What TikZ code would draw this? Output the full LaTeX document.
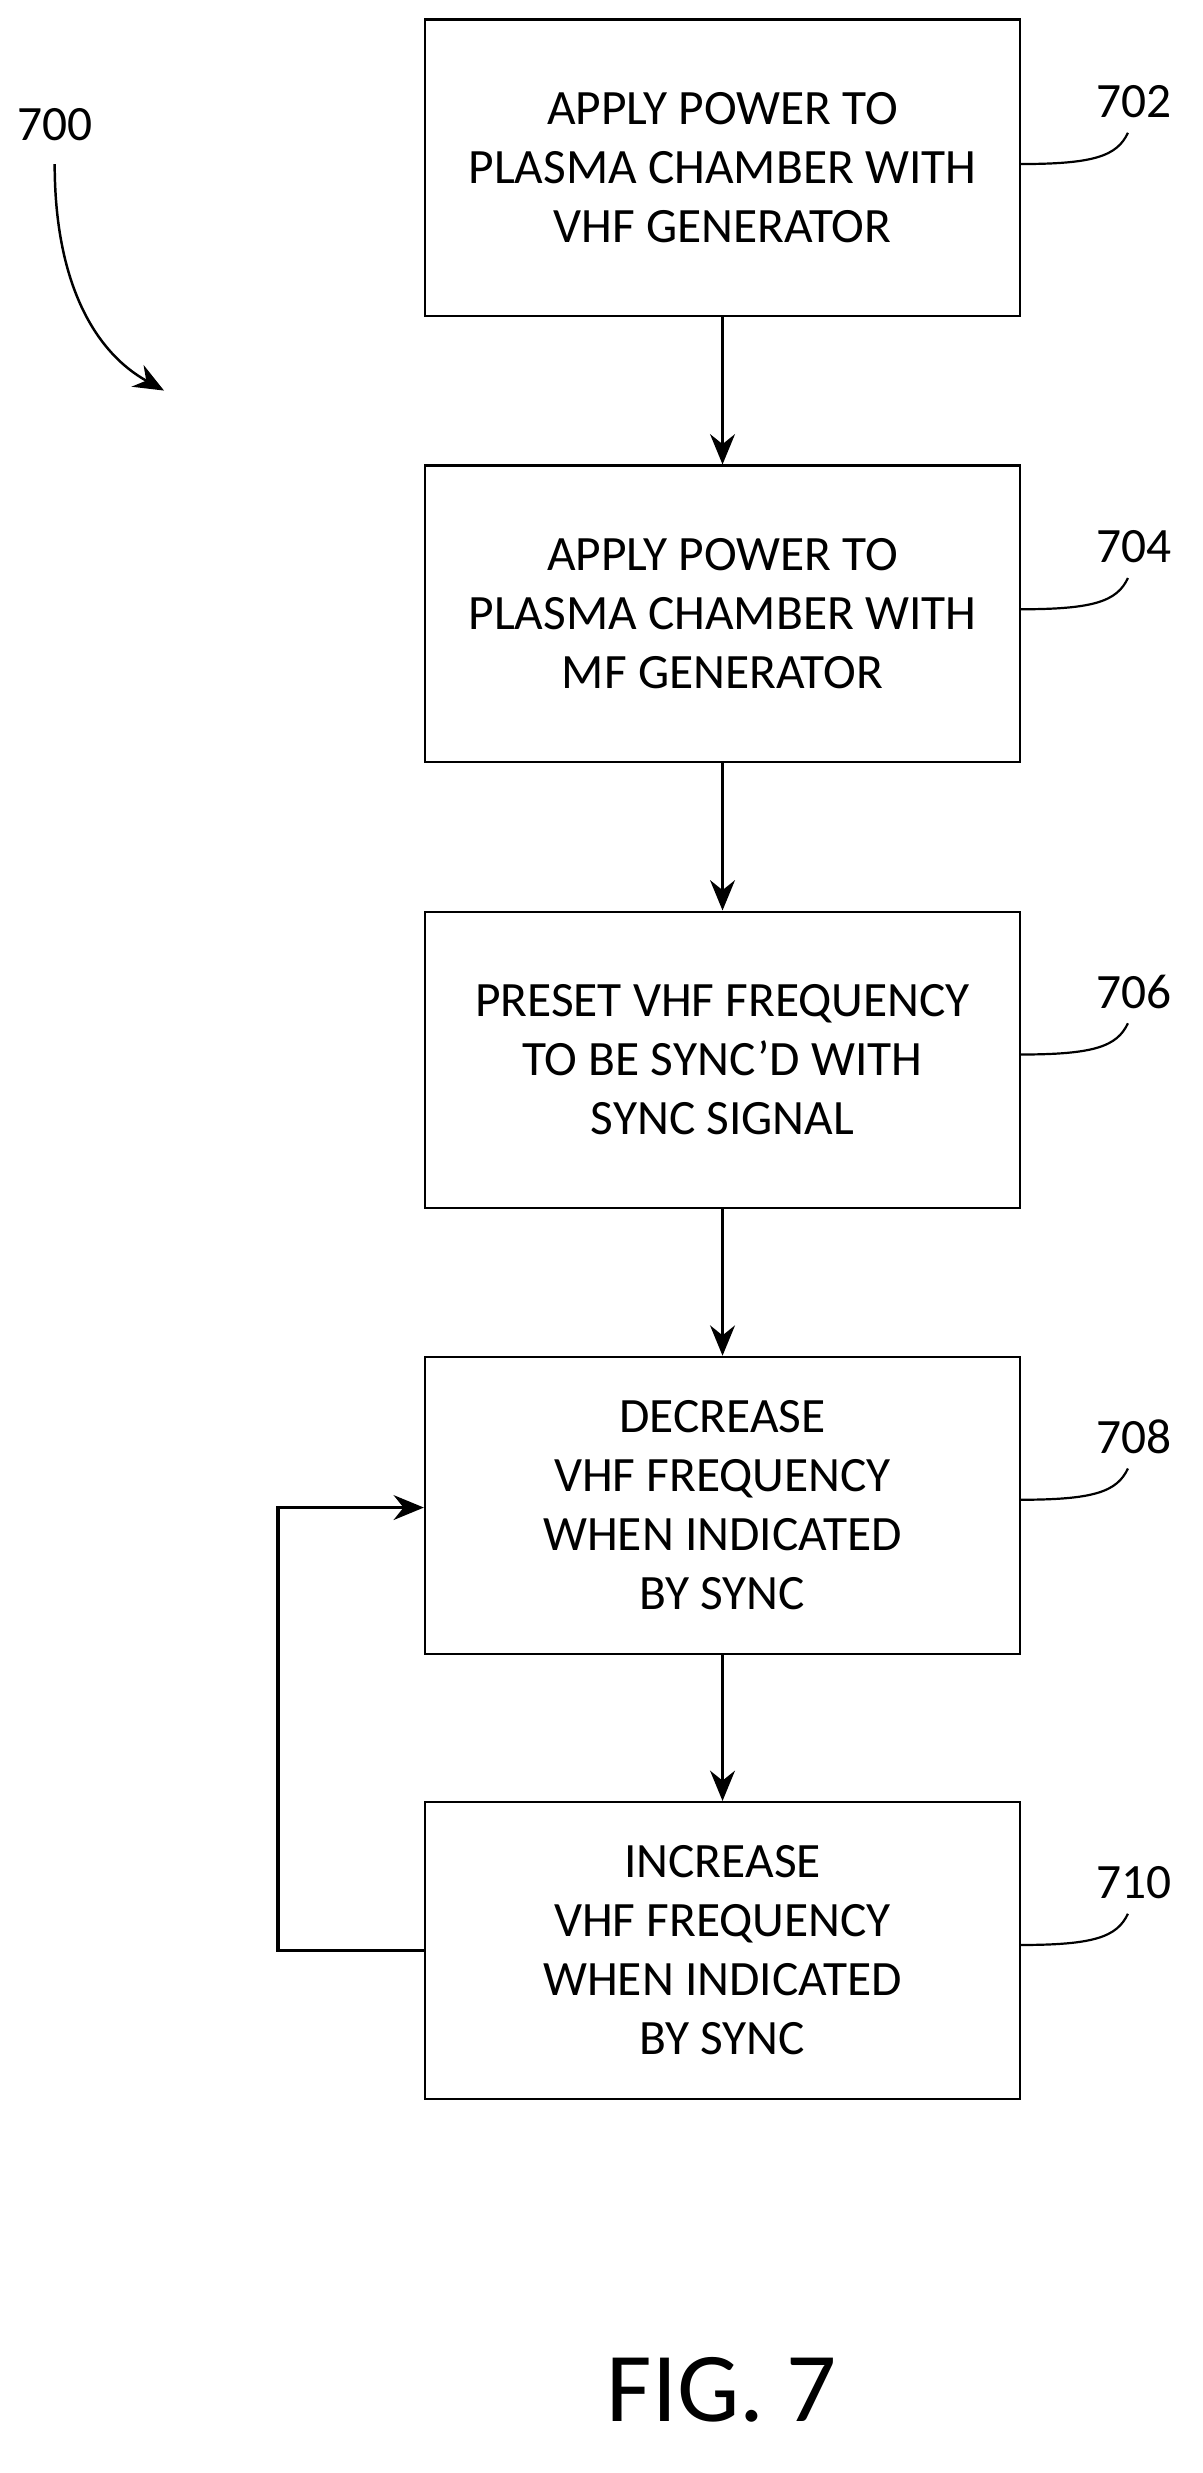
\documentclass[tikz,border=0pt]{standalone}
\usepackage{fontspec}
\setmainfont{Carlito}
\usetikzlibrary{positioning,arrows.meta}
\begin{document}
\begin{tikzpicture}[x=0.02cm,y=-0.02cm]
    % Stili
    \tikzset{
        stepbox/.style={rectangle, draw, line width=0.8pt, minimum width=7.62cm, minimum height=3.8cm, align=center, font=\fontsize{18}{21.5}\selectfont},
        arrow/.style={-{Stealth[length=11pt,width=9pt]}, line width=1.4pt},
        refnum/.style={font=\fontsize{18}{21}\selectfont},
        lead/.style={line width=0.8pt}
    }
    \useasboundingbox (0,0) rectangle (770,1583);

    % Passi
    \node[stepbox] (s702) at (462.5,107.5) {APPLY POWER TO\\PLASMA CHAMBER WITH\\VHF GENERATOR};
    \node[stepbox] (s704) at (462.5,393) {APPLY POWER TO\\PLASMA CHAMBER WITH\\MF GENERATOR};
    \node[stepbox] (s706) at (462.5,678.5) {PRESET VHF FREQUENCY\\TO BE SYNC'D WITH\\SYNC SIGNAL};
    \node[stepbox] (s708) at (462.5,963.5) {DECREASE\\VHF FREQUENCY\\WHEN INDICATED\\BY SYNC};
    \node[stepbox] (s710) at (462.5,1248.5) {INCREASE\\VHF FREQUENCY\\WHEN INDICATED\\BY SYNC};

    % Frecce
    \draw[arrow] (s702) -- (s704);
    \draw[arrow] (s704) -- (s706);
    \draw[arrow] (s706) -- (s708);
    \draw[arrow] (s708) -- (s710);
    \coordinate (loop) at (178,965);
    \draw[arrow] (s710.west) -| (loop) -- (s708.west |- loop);

    % Riferimenti
    \foreach \n/\y in {702/65, 704/350, 706/635, 708/920, 710/1205} {
        \node[refnum] (r\n) at (726,\y) {\n};
        \coordinate (e\n) at (653,\y+40);
        \draw[lead] (e\n) .. controls (700,\y+40) and (715,\y+35) .. (722,\y+20);
    }

    \node[refnum] (r700) at (35,80) {700};
    \coordinate (t700) at (105,250);
    \draw[arrow, line width=0.9pt] (35,105) .. controls (35,180) and (60,225) .. (t700);

    \node[font=\fontsize{36}{42}\selectfont] (fig) at (462,1530) {FIG. 7};
\end{tikzpicture}
\end{document}
